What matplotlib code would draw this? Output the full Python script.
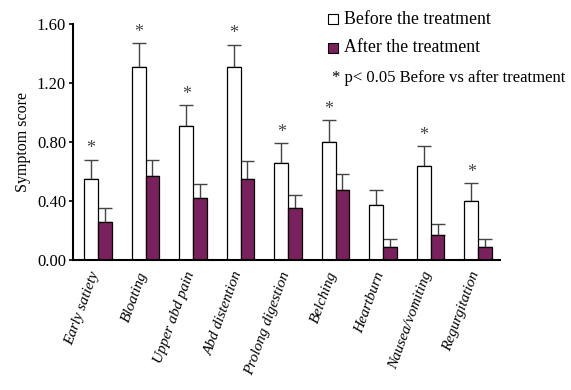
import matplotlib
matplotlib.use("Agg")
import matplotlib.pyplot as plt
import numpy as np
from matplotlib.patches import Rectangle

categories = ["Early satiety", "Bloating", "Upper abd pain", "Abd distention",
              "Prolong digestion", "Belching", "Heartburn", "Nausea/vomiting", "Regurgitation"]
before = [0.55, 1.31, 0.91, 1.31, 0.655, 0.80, 0.37, 0.635, 0.40]
before_err = [0.13, 0.16, 0.14, 0.15, 0.14, 0.15, 0.105, 0.135, 0.12]
after = [0.26, 0.57, 0.42, 0.55, 0.35, 0.475, 0.09, 0.17, 0.09]
after_err = [0.09, 0.11, 0.095, 0.12, 0.09, 0.105, 0.05, 0.075, 0.05]
significant = [True, True, True, True, True, True, False, True, True]
yticks = [0.0, 0.4, 0.8, 1.2, 1.6]

plt.rcParams['font.family'] = ['Liberation Serif', 'DejaVu Serif']
purple = "#7B205E"
errc = "#444444"

fig = plt.figure(figsize=(5.71, 3.90), dpi=100)
ax = fig.add_axes([73/571, 130/390, (500-73)/571, (260-24)/390])

x = np.arange(len(categories))
w = 0.29
ax.bar(x - w/2, before, w, color="white", edgecolor="black", linewidth=0.9, zorder=2)
ax.bar(x + w/2, after, w, color=purple, edgecolor="black", linewidth=0.9, zorder=2)
ax.errorbar(x - w/2, before, yerr=[np.zeros(len(before)), before_err], fmt="none",
            ecolor=errc, elinewidth=1.0, capsize=5, capthick=1.0, zorder=1)
ax.errorbar(x + w/2, after, yerr=[np.zeros(len(after)), after_err], fmt="none",
            ecolor=errc, elinewidth=1.0, capsize=5, capthick=1.0, zorder=1)
for xi, b, e, s in zip(x, before, before_err, significant):
    if s:
        ax.text(xi - w/2, b + e + 0.015, "*", ha="center", va="bottom", fontsize=13, color="#444444")

ax.set_xlim(-0.526, 8.46)
ax.set_ylim(0, 1.6)
ax.set_yticks(yticks)
ax.set_yticklabels([f"{v:.2f}" for v in yticks], fontsize=12)
ax.set_ylabel("Symptom score", fontsize=11.5, labelpad=4)
ax.set_xticks(x - 0.17)
ax.set_xticklabels(categories, rotation=70, ha="right", va="top", rotation_mode="anchor",
                   fontsize=11, style="italic")
ax.tick_params(axis="x", length=0, pad=7)
ax.tick_params(axis="y", direction="out", length=3, width=1.2, pad=2)
for s in ["top", "right"]:
    ax.spines[s].set_visible(False)
ax.spines["left"].set_linewidth(1.5)
ax.spines["bottom"].set_linewidth(1.5)

# legend-like annotation
fig.patches.append(Rectangle((328/571, 1 - 24/390), 10/571, 10/390, transform=fig.transFigure,
                             facecolor="white", edgecolor="black", linewidth=0.8))
fig.patches.append(Rectangle((328/571, 1 - 53/390), 10/571, 10/390, transform=fig.transFigure,
                             facecolor=purple, edgecolor="black", linewidth=0.8))
fig.text(344/571, 1 - 19/390, "Before the treatment", fontsize=12.8, va="center", ha="left")
fig.text(344/571, 1 - 48/390, "After the treatment", fontsize=12.8, va="center", ha="left")
fig.text(332/571, 1 - 78/390, "* p< 0.05 Before vs after treatment", fontsize=12, va="center", ha="left")

fig.savefig("out.png", dpi=100)
